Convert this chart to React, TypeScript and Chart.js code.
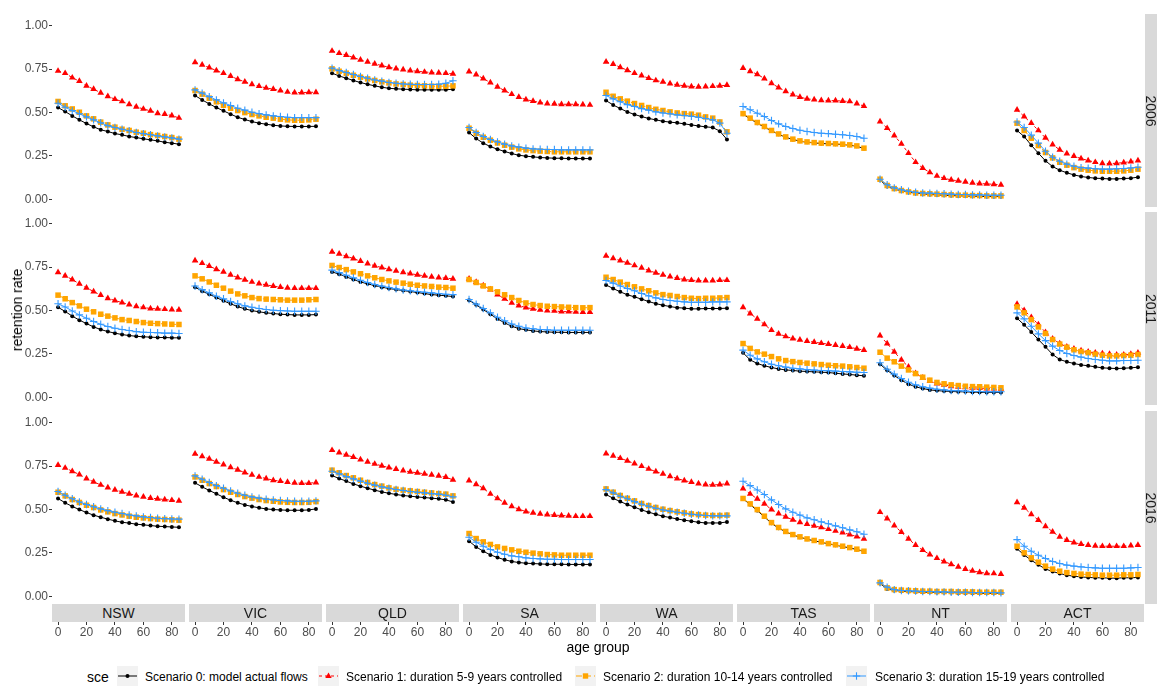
import React, { useEffect, useRef } from "react";
import { Chart, registerables } from "chart.js";

Chart.register(...registerables);

const FONT = "'Liberation Sans', Arial, Helvetica, sans-serif";

// ---- data -------------------------------------------------------------
const AGES = [0, 5, 10, 15, 20, 25, 30, 35, 40, 45, 50, 55, 60, 65, 70, 75, 80, 85];
const STATES = ["NSW", "VIC", "QLD", "SA", "WA", "TAS", "NT", "ACT"];
const YEARS = ["2006", "2011", "2016"];
const Y_TICKS = [0, 0.25, 0.5, 0.75, 1];
const X_TICKS = [0, 20, 40, 60, 80];
const SCENARIOS = [
  "Scenario 0: model actual flows",
  "Scenario 1: duration 5-9 years controlled",
  "Scenario 2: duration 10-14 years controlled",
  "Scenario 3: duration 15-19 years controlled",
];

// each panel: [scenario 0, scenario 1, scenario 2, scenario 3], one value per age group
const NSW_2006 = [
  [0.528, 0.505, 0.48, 0.457, 0.436, 0.417, 0.4, 0.39, 0.378, 0.371, 0.361, 0.355, 0.348, 0.342, 0.336, 0.328, 0.323, 0.317],
  [0.739, 0.726, 0.7, 0.68, 0.653, 0.634, 0.613, 0.593, 0.576, 0.563, 0.547, 0.532, 0.52, 0.509, 0.495, 0.49, 0.482, 0.468],
  [0.563, 0.538, 0.52, 0.501, 0.48, 0.463, 0.444, 0.428, 0.415, 0.403, 0.396, 0.386, 0.38, 0.372, 0.367, 0.361, 0.355, 0.346],
  [0.553, 0.53, 0.51, 0.492, 0.474, 0.457, 0.44, 0.424, 0.413, 0.403, 0.394, 0.384, 0.378, 0.371, 0.365, 0.359, 0.353, 0.346],
];
const VIC_2006 = [
  [0.597, 0.572, 0.549, 0.528, 0.509, 0.49, 0.472, 0.459, 0.447, 0.438, 0.432, 0.426, 0.422, 0.42, 0.419, 0.419, 0.419, 0.42],
  [0.789, 0.774, 0.758, 0.741, 0.726, 0.709, 0.691, 0.676, 0.662, 0.651, 0.641, 0.634, 0.626, 0.618, 0.614, 0.614, 0.616, 0.616],
  [0.626, 0.605, 0.582, 0.561, 0.541, 0.524, 0.511, 0.499, 0.488, 0.48, 0.472, 0.467, 0.461, 0.457, 0.455, 0.455, 0.457, 0.461],
  [0.63, 0.611, 0.591, 0.572, 0.555, 0.54, 0.524, 0.513, 0.501, 0.493, 0.486, 0.48, 0.476, 0.472, 0.47, 0.47, 0.47, 0.47],
];
const QLD_2006 = [
  [0.726, 0.71, 0.697, 0.684, 0.672, 0.662, 0.653, 0.645, 0.639, 0.636, 0.634, 0.632, 0.63, 0.63, 0.63, 0.63, 0.63, 0.634],
  [0.854, 0.841, 0.83, 0.816, 0.803, 0.791, 0.78, 0.77, 0.76, 0.753, 0.747, 0.741, 0.737, 0.733, 0.73, 0.728, 0.726, 0.722],
  [0.751, 0.737, 0.726, 0.714, 0.703, 0.693, 0.684, 0.676, 0.67, 0.664, 0.661, 0.657, 0.655, 0.653, 0.651, 0.651, 0.651, 0.653],
  [0.755, 0.741, 0.73, 0.718, 0.707, 0.697, 0.687, 0.68, 0.672, 0.668, 0.664, 0.662, 0.661, 0.661, 0.661, 0.662, 0.668, 0.682],
];
const SA_2006 = [
  [0.384, 0.349, 0.323, 0.303, 0.288, 0.275, 0.263, 0.253, 0.248, 0.244, 0.24, 0.238, 0.236, 0.236, 0.234, 0.234, 0.234, 0.234],
  [0.735, 0.718, 0.695, 0.672, 0.647, 0.626, 0.605, 0.588, 0.574, 0.565, 0.557, 0.551, 0.549, 0.547, 0.547, 0.547, 0.545, 0.543],
  [0.409, 0.38, 0.357, 0.34, 0.324, 0.311, 0.3, 0.29, 0.284, 0.28, 0.277, 0.275, 0.273, 0.273, 0.273, 0.273, 0.273, 0.273],
  [0.413, 0.384, 0.361, 0.344, 0.33, 0.317, 0.307, 0.3, 0.294, 0.29, 0.288, 0.286, 0.286, 0.284, 0.284, 0.284, 0.284, 0.284],
];
const WA_2006 = [
  [0.568, 0.543, 0.522, 0.503, 0.488, 0.476, 0.465, 0.457, 0.449, 0.444, 0.44, 0.434, 0.428, 0.422, 0.417, 0.413, 0.392, 0.344],
  [0.791, 0.778, 0.76, 0.743, 0.726, 0.712, 0.697, 0.684, 0.676, 0.666, 0.659, 0.653, 0.649, 0.647, 0.649, 0.651, 0.653, 0.657],
  [0.616, 0.593, 0.578, 0.565, 0.551, 0.54, 0.528, 0.518, 0.511, 0.503, 0.497, 0.493, 0.49, 0.484, 0.474, 0.467, 0.445, 0.388],
  [0.597, 0.578, 0.561, 0.545, 0.534, 0.522, 0.513, 0.503, 0.497, 0.492, 0.486, 0.482, 0.478, 0.472, 0.465, 0.457, 0.438, 0.38],
];
const TAS_2006 = [
  [0.49, 0.463, 0.438, 0.415, 0.394, 0.374, 0.357, 0.344, 0.334, 0.328, 0.324, 0.321, 0.319, 0.317, 0.315, 0.311, 0.305, 0.292],
  [0.755, 0.737, 0.72, 0.695, 0.668, 0.643, 0.622, 0.603, 0.588, 0.578, 0.574, 0.57, 0.568, 0.568, 0.565, 0.563, 0.551, 0.536],
  [0.493, 0.467, 0.442, 0.419, 0.396, 0.376, 0.359, 0.346, 0.336, 0.33, 0.326, 0.323, 0.321, 0.319, 0.317, 0.313, 0.307, 0.294],
  [0.534, 0.515, 0.495, 0.476, 0.453, 0.434, 0.419, 0.407, 0.397, 0.39, 0.384, 0.38, 0.378, 0.374, 0.371, 0.367, 0.361, 0.351],
];
const NT_2006 = [
  [0.111, 0.073, 0.058, 0.048, 0.04, 0.035, 0.031, 0.027, 0.025, 0.023, 0.021, 0.019, 0.019, 0.017, 0.017, 0.015, 0.015, 0.015],
  [0.447, 0.409, 0.367, 0.319, 0.265, 0.213, 0.179, 0.154, 0.134, 0.121, 0.111, 0.106, 0.1, 0.094, 0.09, 0.088, 0.086, 0.083],
  [0.115, 0.079, 0.061, 0.05, 0.042, 0.036, 0.033, 0.031, 0.029, 0.027, 0.025, 0.023, 0.023, 0.021, 0.021, 0.019, 0.019, 0.019],
  [0.115, 0.083, 0.065, 0.054, 0.046, 0.04, 0.036, 0.035, 0.033, 0.031, 0.029, 0.027, 0.027, 0.025, 0.025, 0.023, 0.023, 0.023],
];
const ACT_2006 = [
  [0.396, 0.361, 0.311, 0.265, 0.221, 0.188, 0.167, 0.152, 0.14, 0.131, 0.125, 0.121, 0.119, 0.117, 0.117, 0.119, 0.121, 0.127],
  [0.515, 0.476, 0.438, 0.396, 0.353, 0.315, 0.284, 0.263, 0.248, 0.234, 0.223, 0.213, 0.207, 0.205, 0.207, 0.211, 0.217, 0.223],
  [0.438, 0.396, 0.351, 0.309, 0.269, 0.238, 0.213, 0.196, 0.182, 0.173, 0.167, 0.163, 0.161, 0.161, 0.161, 0.163, 0.167, 0.173],
  [0.445, 0.413, 0.369, 0.323, 0.276, 0.242, 0.219, 0.202, 0.19, 0.182, 0.179, 0.175, 0.173, 0.173, 0.175, 0.177, 0.18, 0.184],
];

const NSW_2011 = [
  [0.518, 0.494, 0.467, 0.444, 0.424, 0.405, 0.39, 0.378, 0.369, 0.361, 0.355, 0.351, 0.348, 0.346, 0.344, 0.344, 0.342, 0.342],
  [0.72, 0.699, 0.678, 0.653, 0.63, 0.609, 0.588, 0.57, 0.557, 0.545, 0.534, 0.524, 0.517, 0.511, 0.509, 0.507, 0.505, 0.503],
  [0.588, 0.567, 0.545, 0.526, 0.507, 0.492, 0.478, 0.467, 0.457, 0.447, 0.442, 0.436, 0.43, 0.426, 0.424, 0.422, 0.42, 0.419],
  [0.538, 0.52, 0.497, 0.474, 0.455, 0.436, 0.42, 0.407, 0.397, 0.39, 0.384, 0.378, 0.374, 0.373, 0.371, 0.369, 0.369, 0.367],
];
const VIC_2011 = [
  [0.634, 0.611, 0.593, 0.574, 0.555, 0.538, 0.522, 0.509, 0.499, 0.492, 0.486, 0.482, 0.478, 0.476, 0.474, 0.474, 0.474, 0.476],
  [0.787, 0.772, 0.755, 0.737, 0.722, 0.705, 0.689, 0.676, 0.664, 0.655, 0.647, 0.64, 0.634, 0.63, 0.628, 0.628, 0.628, 0.628],
  [0.699, 0.682, 0.664, 0.645, 0.628, 0.611, 0.595, 0.584, 0.574, 0.568, 0.565, 0.563, 0.561, 0.559, 0.559, 0.559, 0.561, 0.563],
  [0.641, 0.62, 0.601, 0.582, 0.567, 0.551, 0.538, 0.526, 0.518, 0.511, 0.505, 0.501, 0.499, 0.497, 0.495, 0.495, 0.495, 0.495],
];
const QLD_2011 = [
  [0.722, 0.709, 0.693, 0.678, 0.664, 0.653, 0.643, 0.634, 0.626, 0.62, 0.614, 0.609, 0.603, 0.597, 0.591, 0.588, 0.584, 0.58],
  [0.837, 0.826, 0.812, 0.799, 0.784, 0.77, 0.757, 0.747, 0.737, 0.728, 0.72, 0.712, 0.705, 0.699, 0.693, 0.689, 0.686, 0.682],
  [0.759, 0.747, 0.735, 0.722, 0.711, 0.699, 0.688, 0.678, 0.67, 0.663, 0.657, 0.651, 0.645, 0.641, 0.638, 0.634, 0.632, 0.628],
  [0.732, 0.718, 0.703, 0.688, 0.674, 0.661, 0.649, 0.64, 0.632, 0.624, 0.618, 0.613, 0.609, 0.605, 0.601, 0.597, 0.593, 0.591],
];
const SA_2011 = [
  [0.559, 0.532, 0.505, 0.478, 0.451, 0.428, 0.409, 0.395, 0.388, 0.382, 0.378, 0.376, 0.374, 0.374, 0.373, 0.373, 0.373, 0.373],
  [0.682, 0.663, 0.643, 0.62, 0.591, 0.566, 0.543, 0.528, 0.516, 0.509, 0.503, 0.499, 0.497, 0.493, 0.493, 0.491, 0.49, 0.49],
  [0.678, 0.661, 0.641, 0.624, 0.607, 0.59, 0.574, 0.557, 0.543, 0.534, 0.528, 0.524, 0.522, 0.52, 0.518, 0.516, 0.515, 0.516],
  [0.563, 0.536, 0.511, 0.486, 0.461, 0.44, 0.422, 0.409, 0.399, 0.394, 0.39, 0.388, 0.386, 0.386, 0.386, 0.386, 0.386, 0.386],
];
const WA_2011 = [
  [0.647, 0.626, 0.607, 0.59, 0.578, 0.565, 0.551, 0.539, 0.53, 0.522, 0.516, 0.513, 0.509, 0.509, 0.511, 0.511, 0.511, 0.513],
  [0.814, 0.8, 0.787, 0.774, 0.759, 0.745, 0.73, 0.716, 0.705, 0.695, 0.686, 0.678, 0.674, 0.672, 0.672, 0.672, 0.674, 0.674],
  [0.691, 0.678, 0.663, 0.649, 0.636, 0.624, 0.613, 0.601, 0.591, 0.586, 0.58, 0.574, 0.57, 0.568, 0.57, 0.57, 0.572, 0.574],
  [0.672, 0.657, 0.641, 0.626, 0.613, 0.597, 0.584, 0.572, 0.563, 0.557, 0.553, 0.549, 0.547, 0.547, 0.547, 0.549, 0.549, 0.549],
];
const TAS_2011 = [
  [0.256, 0.215, 0.194, 0.181, 0.171, 0.163, 0.157, 0.154, 0.15, 0.148, 0.146, 0.144, 0.142, 0.138, 0.134, 0.131, 0.127, 0.123],
  [0.518, 0.482, 0.451, 0.419, 0.386, 0.365, 0.35, 0.338, 0.33, 0.323, 0.317, 0.311, 0.306, 0.3, 0.294, 0.288, 0.279, 0.271],
  [0.309, 0.281, 0.261, 0.248, 0.234, 0.221, 0.211, 0.205, 0.2, 0.196, 0.192, 0.188, 0.184, 0.181, 0.179, 0.175, 0.171, 0.167],
  [0.271, 0.242, 0.221, 0.204, 0.19, 0.181, 0.173, 0.167, 0.163, 0.159, 0.156, 0.154, 0.152, 0.15, 0.148, 0.146, 0.144, 0.142],
];
const NT_2011 = [
  [0.19, 0.155, 0.125, 0.098, 0.075, 0.06, 0.05, 0.042, 0.038, 0.035, 0.033, 0.031, 0.031, 0.029, 0.029, 0.027, 0.027, 0.027],
  [0.355, 0.309, 0.261, 0.215, 0.175, 0.138, 0.111, 0.092, 0.079, 0.071, 0.063, 0.06, 0.056, 0.054, 0.052, 0.05, 0.05, 0.048],
  [0.259, 0.225, 0.204, 0.179, 0.157, 0.136, 0.115, 0.098, 0.085, 0.077, 0.071, 0.067, 0.063, 0.061, 0.06, 0.058, 0.056, 0.054],
  [0.198, 0.161, 0.133, 0.108, 0.086, 0.071, 0.06, 0.052, 0.046, 0.042, 0.038, 0.037, 0.035, 0.033, 0.033, 0.031, 0.031, 0.031],
];
const ACT_2011 = [
  [0.455, 0.417, 0.376, 0.332, 0.29, 0.246, 0.217, 0.204, 0.194, 0.186, 0.181, 0.175, 0.169, 0.167, 0.165, 0.167, 0.169, 0.173],
  [0.536, 0.501, 0.461, 0.419, 0.374, 0.336, 0.309, 0.29, 0.279, 0.269, 0.261, 0.256, 0.252, 0.248, 0.244, 0.244, 0.248, 0.256],
  [0.52, 0.486, 0.447, 0.405, 0.367, 0.332, 0.306, 0.288, 0.273, 0.263, 0.256, 0.248, 0.242, 0.238, 0.238, 0.24, 0.242, 0.246],
  [0.486, 0.451, 0.409, 0.365, 0.326, 0.294, 0.269, 0.252, 0.24, 0.231, 0.223, 0.217, 0.213, 0.209, 0.209, 0.211, 0.211, 0.213],
];

const NSW_2016 = [
  [0.563, 0.538, 0.517, 0.499, 0.482, 0.467, 0.455, 0.444, 0.434, 0.426, 0.421, 0.415, 0.411, 0.407, 0.403, 0.401, 0.399, 0.397],
  [0.755, 0.739, 0.72, 0.701, 0.678, 0.659, 0.641, 0.626, 0.613, 0.601, 0.59, 0.58, 0.572, 0.565, 0.561, 0.557, 0.553, 0.549],
  [0.599, 0.578, 0.557, 0.54, 0.524, 0.511, 0.497, 0.486, 0.476, 0.468, 0.461, 0.455, 0.451, 0.447, 0.444, 0.442, 0.44, 0.438],
  [0.603, 0.582, 0.561, 0.543, 0.528, 0.515, 0.503, 0.493, 0.484, 0.476, 0.468, 0.463, 0.457, 0.453, 0.449, 0.447, 0.445, 0.444],
];
const VIC_2016 = [
  [0.653, 0.63, 0.609, 0.59, 0.57, 0.553, 0.538, 0.526, 0.517, 0.509, 0.503, 0.499, 0.497, 0.495, 0.495, 0.495, 0.497, 0.503],
  [0.82, 0.806, 0.791, 0.774, 0.758, 0.743, 0.728, 0.712, 0.699, 0.687, 0.678, 0.668, 0.663, 0.657, 0.653, 0.651, 0.651, 0.655],
  [0.687, 0.668, 0.649, 0.632, 0.614, 0.599, 0.586, 0.574, 0.565, 0.557, 0.551, 0.547, 0.543, 0.541, 0.54, 0.54, 0.541, 0.545],
  [0.693, 0.674, 0.655, 0.637, 0.622, 0.607, 0.593, 0.582, 0.572, 0.565, 0.559, 0.555, 0.551, 0.549, 0.547, 0.547, 0.547, 0.549],
];
const QLD_2016 = [
  [0.695, 0.678, 0.663, 0.647, 0.634, 0.622, 0.611, 0.601, 0.593, 0.586, 0.58, 0.576, 0.572, 0.568, 0.565, 0.561, 0.555, 0.543],
  [0.841, 0.828, 0.814, 0.801, 0.787, 0.774, 0.762, 0.751, 0.741, 0.732, 0.724, 0.716, 0.711, 0.705, 0.699, 0.693, 0.686, 0.67],
  [0.726, 0.711, 0.695, 0.682, 0.668, 0.655, 0.643, 0.634, 0.624, 0.616, 0.611, 0.607, 0.603, 0.599, 0.595, 0.591, 0.588, 0.578],
  [0.72, 0.705, 0.689, 0.676, 0.663, 0.651, 0.64, 0.63, 0.622, 0.615, 0.609, 0.603, 0.599, 0.595, 0.591, 0.588, 0.582, 0.572],
];
const SA_2016 = [
  [0.317, 0.284, 0.259, 0.238, 0.223, 0.21, 0.2, 0.194, 0.19, 0.188, 0.186, 0.184, 0.184, 0.184, 0.183, 0.183, 0.183, 0.183],
  [0.666, 0.645, 0.622, 0.589, 0.563, 0.538, 0.518, 0.501, 0.488, 0.48, 0.474, 0.47, 0.467, 0.465, 0.463, 0.461, 0.461, 0.461],
  [0.361, 0.332, 0.313, 0.298, 0.284, 0.275, 0.267, 0.259, 0.253, 0.248, 0.244, 0.24, 0.238, 0.236, 0.236, 0.236, 0.236, 0.236],
  [0.34, 0.311, 0.288, 0.269, 0.253, 0.242, 0.232, 0.227, 0.221, 0.217, 0.215, 0.213, 0.213, 0.211, 0.211, 0.211, 0.211, 0.211],
];
const WA_2016 = [
  [0.586, 0.564, 0.545, 0.528, 0.513, 0.497, 0.484, 0.472, 0.461, 0.453, 0.445, 0.438, 0.432, 0.426, 0.422, 0.422, 0.422, 0.428],
  [0.822, 0.809, 0.795, 0.78, 0.764, 0.749, 0.733, 0.718, 0.705, 0.691, 0.678, 0.666, 0.657, 0.649, 0.643, 0.641, 0.643, 0.649],
  [0.618, 0.599, 0.58, 0.564, 0.549, 0.534, 0.522, 0.511, 0.501, 0.493, 0.486, 0.48, 0.474, 0.47, 0.467, 0.465, 0.465, 0.467],
  [0.614, 0.595, 0.576, 0.561, 0.545, 0.53, 0.518, 0.507, 0.497, 0.49, 0.484, 0.478, 0.472, 0.468, 0.465, 0.463, 0.463, 0.463],
];
const TAS_2016 = [
  [0.561, 0.528, 0.493, 0.457, 0.42, 0.392, 0.371, 0.353, 0.34, 0.328, 0.319, 0.311, 0.301, 0.294, 0.286, 0.278, 0.269, 0.257],
  [0.62, 0.589, 0.561, 0.532, 0.499, 0.476, 0.457, 0.44, 0.426, 0.415, 0.405, 0.396, 0.386, 0.376, 0.367, 0.355, 0.344, 0.33],
  [0.563, 0.532, 0.499, 0.461, 0.424, 0.396, 0.373, 0.355, 0.342, 0.33, 0.321, 0.313, 0.303, 0.296, 0.288, 0.28, 0.271, 0.259],
  [0.662, 0.637, 0.612, 0.586, 0.555, 0.528, 0.503, 0.484, 0.467, 0.451, 0.44, 0.428, 0.417, 0.405, 0.394, 0.382, 0.371, 0.357],
];
const NT_2016 = [
  [0.073, 0.042, 0.033, 0.029, 0.027, 0.025, 0.023, 0.023, 0.021, 0.021, 0.021, 0.019, 0.019, 0.019, 0.017, 0.017, 0.017, 0.017],
  [0.484, 0.447, 0.407, 0.369, 0.33, 0.294, 0.265, 0.24, 0.219, 0.2, 0.184, 0.169, 0.156, 0.146, 0.138, 0.132, 0.131, 0.127],
  [0.079, 0.048, 0.038, 0.035, 0.033, 0.031, 0.029, 0.029, 0.027, 0.027, 0.027, 0.025, 0.025, 0.025, 0.023, 0.023, 0.023, 0.023],
  [0.077, 0.052, 0.038, 0.033, 0.031, 0.029, 0.027, 0.027, 0.025, 0.025, 0.023, 0.023, 0.023, 0.021, 0.021, 0.021, 0.021, 0.019],
];
const ACT_2016 = [
  [0.273, 0.238, 0.207, 0.181, 0.157, 0.142, 0.131, 0.121, 0.115, 0.111, 0.108, 0.106, 0.106, 0.104, 0.104, 0.106, 0.106, 0.108],
  [0.541, 0.509, 0.472, 0.438, 0.403, 0.371, 0.342, 0.323, 0.309, 0.3, 0.294, 0.29, 0.288, 0.288, 0.288, 0.288, 0.292, 0.294],
  [0.288, 0.25, 0.221, 0.196, 0.173, 0.156, 0.144, 0.136, 0.131, 0.127, 0.125, 0.123, 0.121, 0.121, 0.121, 0.123, 0.123, 0.125],
  [0.326, 0.288, 0.259, 0.236, 0.217, 0.2, 0.188, 0.179, 0.173, 0.169, 0.165, 0.163, 0.161, 0.161, 0.161, 0.161, 0.163, 0.165],
];

// rows follow YEARS, columns follow STATES
const PANEL_DATA = [
  [NSW_2006, VIC_2006, QLD_2006, SA_2006, WA_2006, TAS_2006, NT_2006, ACT_2006],
  [NSW_2011, VIC_2011, QLD_2011, SA_2011, WA_2011, TAS_2011, NT_2011, ACT_2011],
  [NSW_2016, VIC_2016, QLD_2016, SA_2016, WA_2016, TAS_2016, NT_2016, ACT_2016],
];

// ---- styling & layout --------------------------------------------------
type SeriesStyle = {
  color: string;
  dash: number[];
  point: "circle" | "triangle" | "rect" | "cross";
  radius: number;
  pointBorder: number;
};

const SERIES_STYLE: SeriesStyle[] = [
  { color: "#000000", dash: [], point: "circle", radius: 2.0, pointBorder: 0 },
  { color: "#FF0000", dash: [3, 3], point: "triangle", radius: 3.8, pointBorder: 0 },
  { color: "#FFA500", dash: [6, 3], point: "rect", radius: 3.9, pointBorder: 0 },
  { color: "#3399FF", dash: [], point: "cross", radius: 3.7, pointBorder: 1.1 },
];

const PLOT_LEFT = 52;
const PANEL_W = 133;
const COL_STEP = 137;
const ROW_TOPS = [14, 212, 411];
const PANEL_H = 193;
const Y_AXIS_W = 52;
const X_AXIS_H = 40;
const STRIP_H = 18;
const Y_MIN = -0.045;
const Y_MAX = 1.067;
const X_MIN = -4.25;
const X_MAX = 89.25;

const TICK_COLOR = "#4D4D4D";
const STRIP_FILL = "#D9D9D9";

function Panel({ row, col }: { row: number; col: number }) {
  const ref = useRef<HTMLCanvasElement>(null);
  const showY = col === 0;
  const showX = row === YEARS.length - 1;
  const width = PANEL_W + (showY ? Y_AXIS_W : 0);
  const height = PANEL_H + (showX ? X_AXIS_H : 0);
  const left = PLOT_LEFT + col * COL_STEP - (showY ? Y_AXIS_W : 0);
  const top = ROW_TOPS[row];

  useEffect(() => {
    const values = PANEL_DATA[row][col];
    const chart = new Chart(ref.current as HTMLCanvasElement, {
      type: "line",
      data: {
        datasets: SERIES_STYLE.map((st, i) => ({
          label: SCENARIOS[i],
          data: AGES.map((a, k) => ({ x: a, y: values[i][k] })),
          borderColor: st.color,
          backgroundColor: st.color,
          borderWidth: 1,
          borderDash: st.dash,
          pointStyle: st.point,
          pointRadius: st.radius,
          pointBorderWidth: st.pointBorder,
          pointBackgroundColor: st.color,
          pointBorderColor: st.color,
          tension: 0,
          order: SERIES_STYLE.length - 1 - i,
          clip: false as any,
        })),
      },
      options: {
        responsive: false,
        animation: false,
        devicePixelRatio: 1,
        events: [],
        layout: { padding: 0, autoPadding: false } as any,
        plugins: { legend: { display: false }, tooltip: { enabled: false } },
        scales: {
          x: {
            type: "linear",
            min: X_MIN,
            max: X_MAX,
            display: showX,
            afterBuildTicks: (s: any) => {
              s.ticks = X_TICKS.map((v) => ({ value: v }));
            },
            afterFit: (s: any) => {
              s.height = showX ? X_AXIS_H : 0;
              s.paddingLeft = 0;
              s.paddingRight = 0;
            },
            ticks: {
              color: TICK_COLOR,
              font: { family: FONT, size: 12, lineHeight: 1 },
              padding: 2,
              maxRotation: 0,
              autoSkip: false,
              callback: (v: any) => String(v),
            },
            grid: { drawOnChartArea: false, drawTicks: true, tickLength: STRIP_H + 3, color: "#333333" },
            border: { display: false },
          },
          y: {
            type: "linear",
            min: Y_MIN,
            max: Y_MAX,
            display: showY,
            afterBuildTicks: (s: any) => {
              s.ticks = Y_TICKS.map((v) => ({ value: v }));
            },
            afterFit: (s: any) => {
              s.width = showY ? Y_AXIS_W : 0;
              s.paddingTop = 0;
              s.paddingBottom = 0;
            },
            ticks: {
              color: TICK_COLOR,
              font: { family: FONT, size: 12 },
              padding: 1,
              autoSkip: false,
              callback: (v: any) => Number(v).toFixed(2),
            },
            grid: { drawOnChartArea: false, drawTicks: true, tickLength: 3, color: "#333333" },
            border: { display: false },
          },
        },
      },
    });
    return () => chart.destroy();
  }, [row, col]);

  return (
    <canvas
      ref={ref}
      width={width}
      height={height}
      style={{ position: "absolute", left, top, width, height, display: "block" }}
    />
  );
}

function LegendKey({ index }: { index: number }) {
  const st = SERIES_STYLE[index];
  const w = 21;
  const h = 20;
  const cx = w / 2;
  const cy = h / 2;
  let marker: React.ReactNode = null;
  if (st.point === "circle") marker = <circle cx={cx} cy={cy} r={2} fill={st.color} />;
  if (st.point === "triangle")
    marker = <polygon points={`${cx},${cy - 3.6} ${cx + 3.2},${cy + 1.9} ${cx - 3.2},${cy + 1.9}`} fill={st.color} />;
  if (st.point === "rect") marker = <rect x={cx - 2.7} y={cy - 2.7} width={5.4} height={5.4} fill={st.color} />;
  if (st.point === "cross")
    marker = (
      <g stroke={st.color} strokeWidth={1.1}>
        <line x1={cx - 3.7} y1={cy} x2={cx + 3.7} y2={cy} />
        <line x1={cx} y1={cy - 3.7} x2={cx} y2={cy + 3.7} />
      </g>
    );
  return (
    <svg width={w} height={h} style={{ display: "block" }}>
      <rect x={0} y={0} width={w} height={h} fill="#F2F2F2" />
      <line x1={1} y1={cy} x2={w - 1} y2={cy} stroke={st.color} strokeWidth={1} strokeDasharray={st.dash.join(" ")} />
      {marker}
    </svg>
  );
}

const LEGEND_KEY_X = [117, 318, 575, 846];
const LEGEND_TEXT_X = [145, 346, 603, 875];

export default function App() {
  const bottomRow = YEARS.length - 1;
  const stripTop = ROW_TOPS[bottomRow] + PANEL_H;
  const rightStripLeft = PLOT_LEFT + (STATES.length - 1) * COL_STEP + PANEL_W + 1;

  return (
    <div
      style={{
        position: "absolute",
        left: 0,
        top: 0,
        width: 1157,
        height: 686,
        overflow: "hidden",
        background: "#FFFFFF",
        fontFamily: FONT,
      }}
    >
      {YEARS.map((_, r) => STATES.map((_, c) => <Panel key={`${r}-${c}`} row={r} col={c} />))}

      {STATES.map((s, c) => (
        <div
          key={s}
          style={{
            position: "absolute",
            left: PLOT_LEFT + c * COL_STEP,
            top: stripTop,
            width: PANEL_W,
            height: STRIP_H,
            background: STRIP_FILL,
            color: "#1A1A1A",
            fontSize: 14,
            lineHeight: `${STRIP_H}px`,
            textAlign: "center",
            zIndex: 2,
          }}
        >
          {s}
        </div>
      ))}

      {YEARS.map((y, r) => (
        <div
          key={y}
          style={{
            position: "absolute",
            left: rightStripLeft,
            top: ROW_TOPS[r],
            width: 20,
            height: PANEL_H,
            background: STRIP_FILL,
            zIndex: 2,
          }}
        >
          <div
            style={{
              position: "absolute",
              left: 6,
              top: PANEL_H / 2,
              transform: "translate(-50%, -50%) rotate(90deg)",
              color: "#1A1A1A",
              fontSize: 14,
              whiteSpace: "nowrap",
              lineHeight: "14px",
            }}
          >
            {y}
          </div>
        </div>
      ))}

      <div
        style={{
          position: "absolute",
          left: 17,
          top: 310,
          transform: "translate(-50%, -50%) rotate(-90deg)",
          fontSize: 14,
          color: "#000000",
          whiteSpace: "nowrap",
          lineHeight: "14px",
        }}
      >
        retention rate
      </div>

      <div
        style={{
          position: "absolute",
          left: 598,
          top: 647,
          transform: "translate(-50%, -50%)",
          fontSize: 14,
          color: "#000000",
          whiteSpace: "nowrap",
          lineHeight: "14px",
        }}
      >
        age group
      </div>

      <div
        style={{
          position: "absolute",
          left: 87,
          top: 677,
          transform: "translateY(-50%)",
          fontSize: 14,
          color: "#000000",
          lineHeight: "14px",
        }}
      >
        sce
      </div>
      {SCENARIOS.map((label, i) => (
        <React.Fragment key={label}>
          <div style={{ position: "absolute", left: LEGEND_KEY_X[i], top: 666 }}>
            <LegendKey index={i} />
          </div>
          <div
            style={{
              position: "absolute",
              left: LEGEND_TEXT_X[i],
              top: 677,
              transform: "translateY(-50%)",
              fontSize: 12,
              color: "#000000",
              whiteSpace: "nowrap",
              lineHeight: "12px",
            }}
          >
            {label}
          </div>
        </React.Fragment>
      ))}
    </div>
  );
}
